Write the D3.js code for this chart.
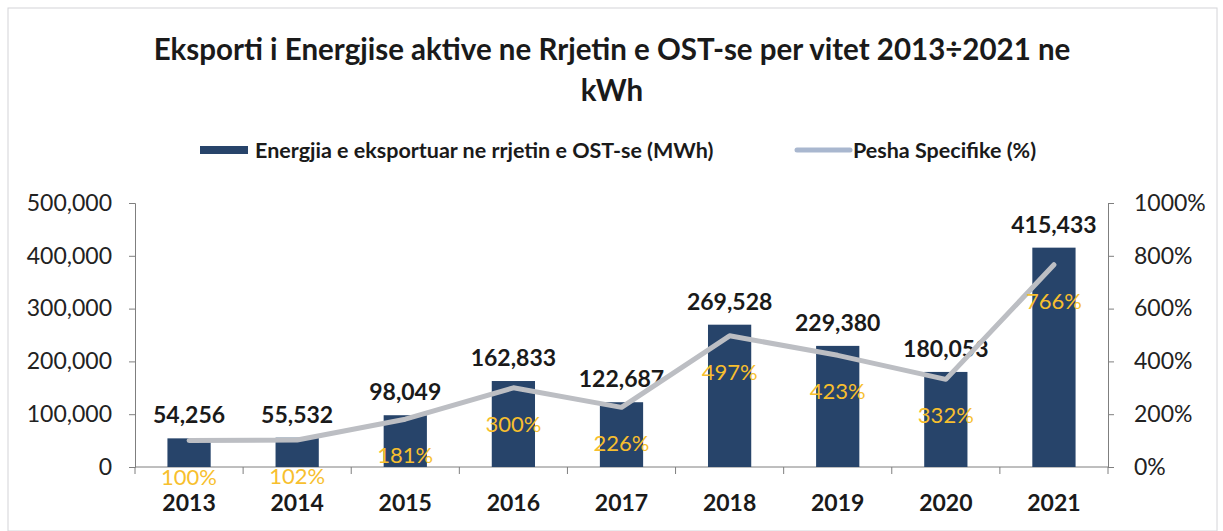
<!DOCTYPE html>
<html>
<head>
<meta charset="utf-8">
<script src="https://cdnjs.cloudflare.com/ajax/libs/d3/7.8.5/d3.min.js"></script>
<style>
  body { margin: 0; background: #fff; }
  svg { font-family: Lato, "Open Sans", sans-serif; }
</style>
</head>
<body>
<script>
var years = ['2013', '2014', '2015', '2016', '2017', '2018', '2019', '2020', '2021'];
var energy = [54256, 55532, 98049, 162833, 122687, 269528, 229380, 180053, 415433];
var share = [100, 102, 181, 300, 226, 497, 423, 332, 766];
var leftTicks = [0, 100000, 200000, 300000, 400000, 500000];
var rightTicks = [0, 200, 400, 600, 800, 1000];

var width = 1223;
var height = 531;
var padding = { left: 135, right: 115, top: 203, bottom: 64 };

var data = years.map(function (y, i) {
  return { year: y, energy: energy[i], share: share[i] };
});

var svg = d3.select('body')
            .append('svg')
            .attr('width', width)
            .attr('height', height);

// outer frame
svg.append('rect')
    .attr('x', 8).attr('y', 8)
    .attr('width', width - 14).attr('height', height - 8)
    .attr('fill', 'none')
    .attr('stroke', '#d4d4d8')
    .attr('stroke-width', 1);

var xScale = d3.scaleBand()
                .domain(years)
                .range([padding.left, width - padding.right])
                .paddingInner(0.6)
                .paddingOuter(0.3);

var yScale = d3.scaleLinear()
                .domain([0, 500000])
                .range([height - padding.bottom, padding.top]);

var y2Scale = d3.scaleLinear()
                .domain([0, 1000])
                .range([height - padding.bottom, padding.top]);

function cx(d) { return xScale(d.year) + xScale.bandwidth() / 2; }

// title
var title = svg.append('g')
    .attr('text-anchor', 'middle')
    .attr('font-size', 29.5).attr('font-weight', 'bold').attr('fill', '#1a1a1a');
title.append('text')
    .attr('x', 612).attr('y', 60)
    .text('Eksporti i Energjise aktive ne Rrjetin e OST-se per vitet 2013÷2021 ne');
title.append('text')
    .attr('x', 612).attr('y', 101)
    .text('kWh');

// legend
var legend = svg.append('g').attr('font-size', 21.5).attr('font-weight', 'bold').attr('fill', '#1a1a1a');
legend.append('rect')
    .attr('x', 200).attr('y', 146).attr('width', 48).attr('height', 8)
    .attr('fill', '#27446a');
legend.append('text')
    .attr('x', 255).attr('y', 158)
    .text('Energjia e eksportuar ne rrjetin e OST-se (MWh)');
legend.append('line')
    .attr('x1', 797).attr('x2', 850).attr('y1', 150).attr('y2', 150)
    .attr('stroke', '#a9b7cf').attr('stroke-width', 5).attr('stroke-linecap', 'round');
legend.append('text')
    .attr('x', 853).attr('y', 158)
    .text('Pesha Specifike (%)');

// axes
var axisLeft = svg.append('g')
    .attr('transform', `translate(${padding.left},0)`)
    .call(d3.axisLeft(yScale).tickValues(leftTicks).tickFormat(d3.format(',')).tickSize(6).tickPadding(17));

var axisRight = svg.append('g')
    .attr('transform', `translate(${width - padding.right},0)`)
    .call(d3.axisRight(y2Scale).tickValues(rightTicks).tickFormat(function (d) { return d + '%'; }).tickSize(6).tickPadding(20));

[axisLeft, axisRight].forEach(function (a) {
  a.selectAll('path, line').attr('stroke', '#7f7f7f');
  a.selectAll('text').attr('font-size', 23).attr('fill', '#222').attr('font-family', 'Lato, sans-serif');
});

// bottom axis with ticks between categories
var bottom = svg.append('g')
    .attr('transform', `translate(0,${height - padding.bottom})`);
bottom.append('line')
    .attr('x1', padding.left).attr('x2', width - padding.right)
    .attr('stroke', '#7f7f7f');
var step = (width - padding.left - padding.right) / years.length;
d3.range(years.length + 1).forEach(function (i) {
  bottom.append('line')
      .attr('x1', padding.left + i * step)
      .attr('x2', padding.left + i * step)
      .attr('y1', 0).attr('y2', 7)
      .attr('stroke', '#7f7f7f');
});
bottom.selectAll('text.year')
    .data(data)
    .enter()
    .append('text')
    .attr('class', 'year')
    .attr('x', cx)
    .attr('y', 44)
    .attr('text-anchor', 'middle')
    .attr('font-size', 23).attr('font-weight', 'bold').attr('fill', '#1a1a1a')
    .text(function (d) { return d.year; });

// bars
svg.selectAll('rect.bar')
    .data(data)
    .enter()
    .append('rect')
    .attr('class', 'bar')
    .attr('x', function (d) { return xScale(d.year); })
    .attr('width', xScale.bandwidth())
    .attr('y', function (d) { return yScale(d.energy); })
    .attr('height', function (d) { return yScale(0) - yScale(d.energy); })
    .attr('fill', '#27446a');

svg.selectAll('text.val')
    .data(data)
    .enter()
    .append('text')
    .attr('class', 'val')
    .attr('x', cx)
    .attr('y', function (d) { return yScale(d.energy) - 15; })
    .attr('text-anchor', 'middle')
    .attr('font-size', 23).attr('font-weight', 'bold').attr('fill', '#1a1a1a')
    .text(function (d) { return d3.format(',')(d.energy); });

// line
var line = d3.line()
    .x(cx)
    .y(function (d) { return y2Scale(d.share); });

svg.append('path')
    .datum(data)
    .attr('d', line)
    .attr('fill', 'none')
    .attr('stroke', '#bcbec3')
    .attr('stroke-width', 5)
    .attr('stroke-linejoin', 'round')
    .attr('stroke-linecap', 'round');

svg.selectAll('text.pct')
    .data(data)
    .enter()
    .append('text')
    .attr('class', 'pct')
    .attr('x', cx)
    .attr('y', function (d) { return y2Scale(d.share) + 44; })
    .attr('text-anchor', 'middle')
    .attr('font-size', 22).attr('fill', '#f7bf2e')
    .text(function (d) { return d.share + '%'; });
</script>
</body>
</html>
